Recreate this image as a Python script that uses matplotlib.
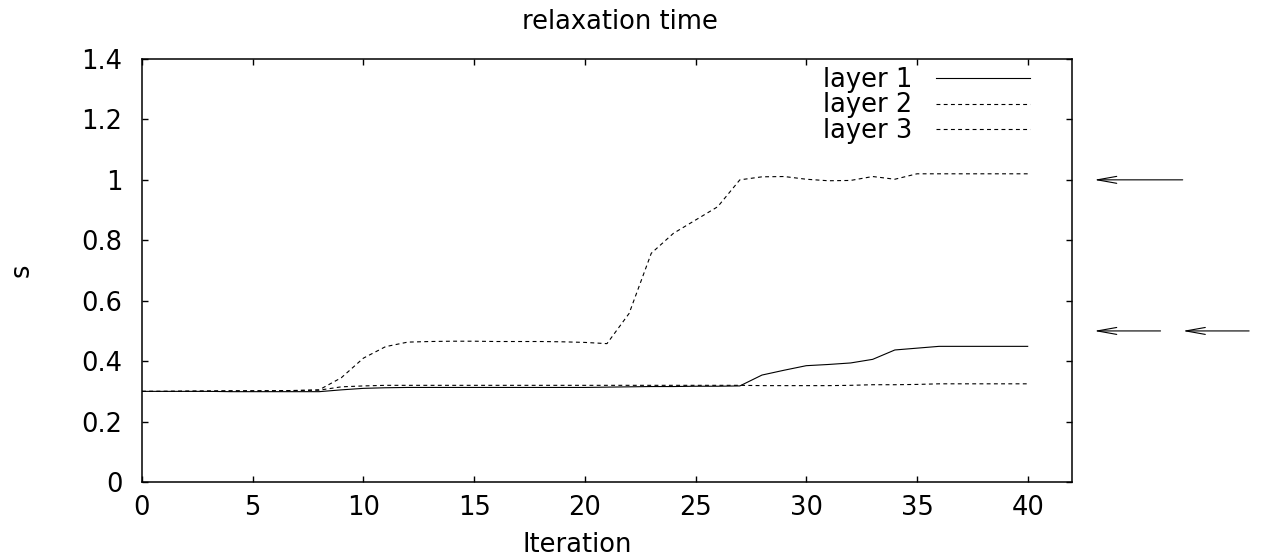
import matplotlib
matplotlib.use("Agg")
import matplotlib.pyplot as plt

plt.rcParams['font.family'] = ['DejaVu Sans']

iterations = list(range(0, 41))
layer1 = [0.300, 0.300, 0.300, 0.300, 0.299, 0.299, 0.299, 0.299, 0.299, 0.305,
          0.310, 0.312, 0.313, 0.313, 0.313, 0.313, 0.313, 0.313, 0.313, 0.313,
          0.313, 0.314, 0.315, 0.316, 0.316, 0.317, 0.317, 0.318, 0.354, 0.370,
          0.385, 0.389, 0.394, 0.406, 0.437, 0.443, 0.449, 0.449, 0.449, 0.449,
          0.449]
layer2 = [0.300, 0.300, 0.300, 0.301, 0.301, 0.301, 0.302, 0.303, 0.305, 0.345,
          0.410, 0.448, 0.463, 0.465, 0.466, 0.466, 0.465, 0.465, 0.465, 0.464,
          0.462, 0.458, 0.558, 0.757, 0.823, 0.867, 0.911, 1.000, 1.010, 1.011,
          1.002, 0.997, 0.998, 1.011, 1.002, 1.020, 1.020, 1.020, 1.020, 1.020,
          1.020]
layer3 = [0.300, 0.300, 0.301, 0.301, 0.302, 0.302, 0.302, 0.303, 0.304, 0.315,
          0.318, 0.320, 0.320, 0.320, 0.320, 0.320, 0.320, 0.320, 0.320, 0.320,
          0.320, 0.320, 0.320, 0.320, 0.320, 0.320, 0.320, 0.320, 0.319, 0.319,
          0.319, 0.319, 0.320, 0.322, 0.322, 0.323, 0.325, 0.325, 0.325, 0.325,
          0.325]
labels = ["layer 1", "layer 2", "layer 3"]
xticks = [0, 5, 10, 15, 20, 25, 30, 35, 40]
yticks = [0, 0.2, 0.4, 0.6, 0.8, 1.0, 1.2, 1.4]
ytick_labels = ["0", "0.2", "0.4", "0.6", "0.8", "1", "1.2", "1.4"]

# arrows (tail x, head x, y)
arrows = [(47, 43, 1.0), (46, 43, 0.5), (50, 47, 0.5)]

fig = plt.figure(figsize=(12.61, 5.59), dpi=100)
ax = fig.add_axes([0.1126, 0.1377, 0.7375, 0.7568])

fs = 18.5
dash = (0, (3.5, 3))
ax.plot(iterations, layer1, color='black', lw=0.8, ls='-', label=labels[0])
ax.plot(iterations, layer2, color='black', lw=0.8, ls=dash, label=labels[1])
ax.plot(iterations, layer3, color='black', lw=0.8, ls=dash, label=labels[2])

ax.set_xlim(0, 42)
ax.set_ylim(0, 1.4)
ax.set_xticks(xticks)
ax.set_xticklabels([str(t) for t in xticks])
ax.set_yticks(yticks)
ax.set_yticklabels(ytick_labels)
ax.tick_params(direction='in', length=4.5, width=1, top=True, right=True,
               labelsize=fs, color='black')
ax.tick_params(axis='y', pad=14)
ax.tick_params(axis='x', pad=9)
for s in ax.spines.values():
    s.set_linewidth(1.1)

for tail, head, y in arrows:
    ax.annotate('', xy=(head, y), xytext=(tail, y), xycoords='data',
                textcoords='data', annotation_clip=False,
                arrowprops=dict(arrowstyle='->,head_length=1.4,head_width=0.25',
                                color='black', lw=0.8, shrinkA=0, shrinkB=0))

leg = ax.legend(loc='upper right', bbox_to_anchor=(0.955, 0.981), frameon=False,
                markerfirst=False, fontsize=fs, handlelength=3.66,
                handletextpad=0.93, labelspacing=-0.02, borderaxespad=0,
                borderpad=0)

fig.text(620 / 1261, 1 - 22 / 559, "relaxation time", ha='center', va='center',
         fontsize=fs)
fig.text(577 / 1261, 1 - 545 / 559, "Iteration", ha='center', va='center',
         fontsize=fs)
fig.text(22 / 1261, 1 - 270 / 559, "s", ha='center', va='center',
         fontsize=fs, rotation=90)

fig.savefig("out.png", dpi=100)
